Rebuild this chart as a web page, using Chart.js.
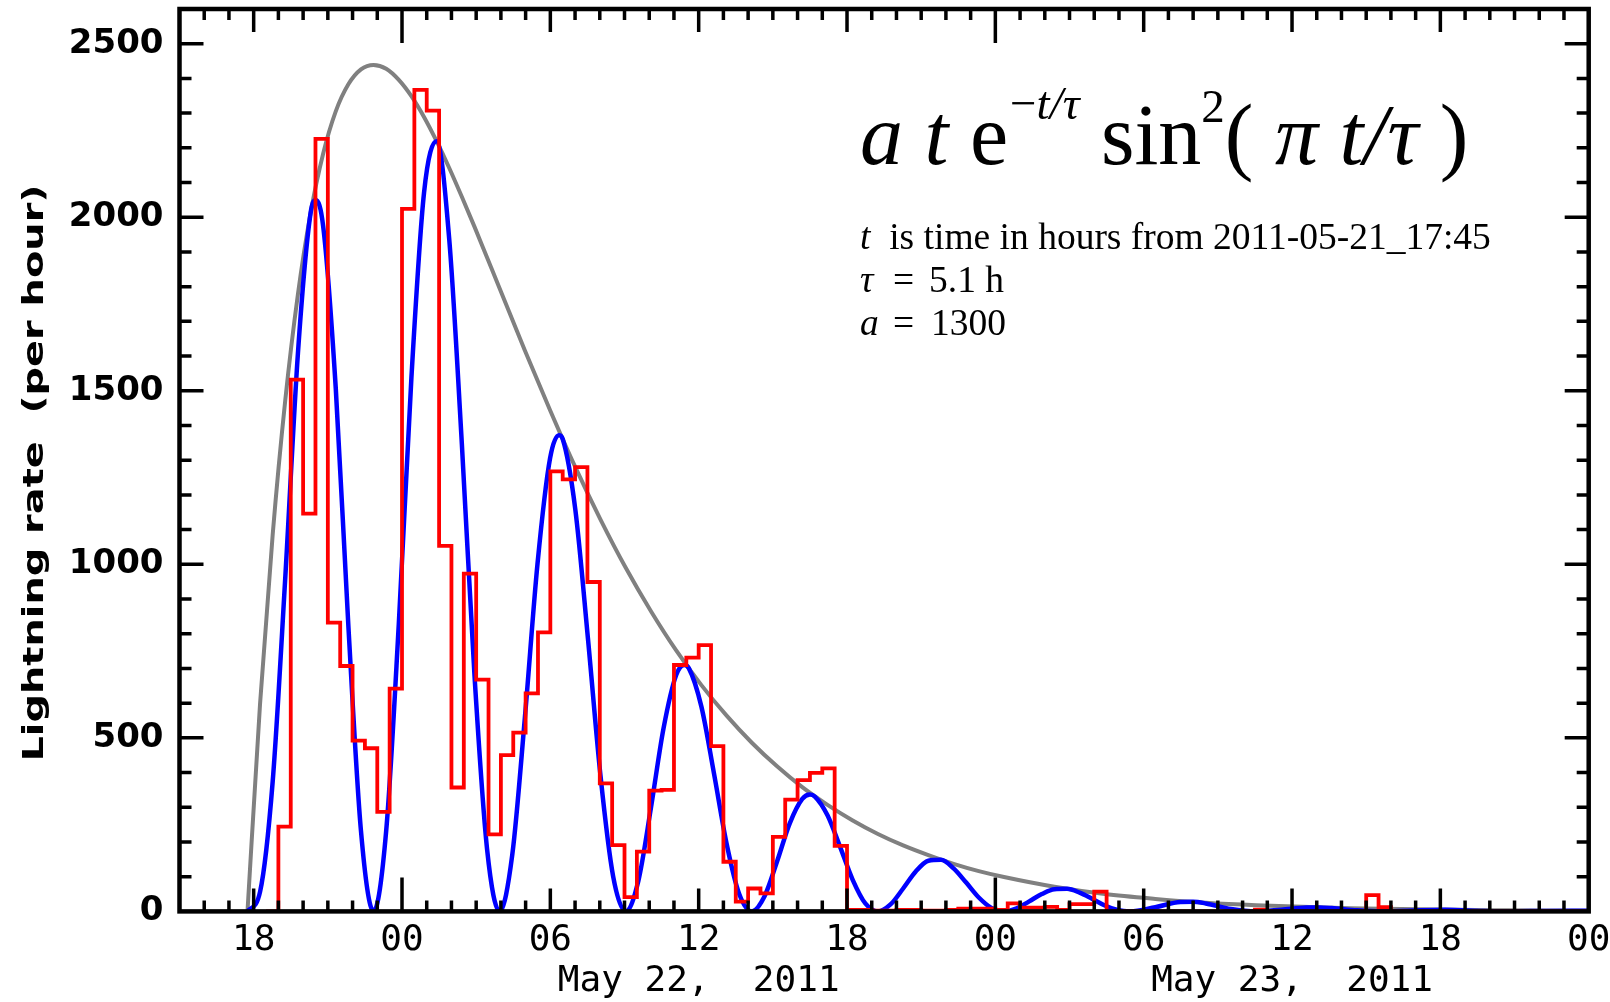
<!DOCTYPE html>
<html>
<head>
<meta charset="utf-8">
<title>Lightning rate</title>
<script src="https://cdn.jsdelivr.net/npm/chart.js@4.4.1/dist/chart.umd.min.js"></script>
<style>
  html, body { margin: 0; padding: 0; background: #fff; }
  canvas { display: block; }
</style>
</head>
<body>
<canvas id="graficaRayos" width="1610" height="1002"></canvas>
<script>
// horas contadas desde 2011-05-21 00:00

// histograma (inicio de cada intervalo de media hora, tasa por hora)
const binStart = [18.5, 19, 19.5, 20, 20.5, 21, 21.5, 22, 22.5, 23, 23.5,
  24, 24.5, 25, 25.5, 26, 26.5, 27, 27.5, 28, 28.5,
  29, 29.5, 30, 30.5, 31, 31.5, 32, 32.5, 33, 33.5,
  34, 34.5, 35, 35.5, 36, 36.5, 37, 37.5, 38, 38.5,
  39, 39.5, 40, 40.5, 41, 41.5, 42, 42.5, 43, 43.5,
  44, 44.5, 45, 45.5, 46, 46.5, 47, 47.5, 48, 48.5,
  49, 49.5, 50, 50.5, 51, 51.5, 52, 52.5,
  58.5, 59, 63, 63.5, 64, 72];
const binRate = [0, 244, 1532, 1146, 2226, 832, 707, 492, 470, 287, 642,
  2024, 2367, 2307, 1053, 357, 973, 668, 222, 450, 515,
  628, 804, 1268, 1245, 1280, 949, 369, 191, 41, 172,
  348, 350, 710, 731, 767, 476, 143, 28, 66, 52,
  215, 322, 378, 399, 412, 189, 4, 4, 2, 2,
  4, 4, 2, 2, 4, 8, 8, 8, 4, 23,
  11, 11, 13, 4, 21, 21, 57, 0,
  5, 0, 47, 12, 0, 0];

// curva azul (ajuste)
const fitHours = [17.75, 18.26, 18.77, 19.28, 19.79, 20.30, 20.51, 20.81, 21.32, 21.83,
  22.34, 22.85, 23.36, 23.87, 24.38, 24.89, 25.40, 25.91, 26.42, 26.93,
  27.44, 27.95, 28.46, 28.97, 29.48, 29.99, 30.35, 30.50, 31.01, 31.52,
  32.03, 32.54, 33.05, 33.56, 34.07, 34.58, 35.09, 35.42, 35.60, 36.11,
  36.62, 37.13, 37.64, 38.15, 38.66, 39.17, 39.68, 40.19, 40.50, 40.70,
  41.21, 41.72, 42.23, 42.74, 43.25, 43.76, 44.27, 44.78, 45.29, 45.80,
  46.31, 46.82, 47.33, 47.84, 48.35, 48.86, 49.37, 49.88, 50.39, 50.90,
  51.41, 51.92, 52.43, 52.94, 53.45, 54.47, 55.49, 56.00, 56.51, 57.53,
  58.55, 59.57, 60.59, 61.10, 61.61, 62.63, 63.65, 64.67, 66.20, 67.73,
  68.75, 70.28, 71.30, 72.00];
const fitRate = [0, 57, 375, 964, 1608, 2011, 2050, 1975, 1508, 823,
  232, 0, 232, 828, 1537, 2070, 2219, 1937, 1348, 682,
  180, 0, 163, 558, 1001, 1306, 1372, 1361, 1158, 787,
  390, 101, 0, 88, 299, 528, 681, 710, 701, 590,
  397, 195, 50, 0, 43, 144, 253, 324, 337, 331,
  277, 186, 91, 23, 0, 20, 66, 115, 146, 149,
  124, 83, 40, 10, 0, 9, 29, 50, 64, 65,
  54, 36, 17, 4, 0, 12, 27, 27.5, 23, 7,
  0, 5, 11, 11.5, 9.5, 3, 0, 2, 4.7, 1.2,
  0, 1.5, 1.9, 1.7];

// curva gris (envolvente)
const envHours = [17.75, 18.26, 18.77, 19.28, 19.79, 20.30, 20.81, 21.32, 21.83, 22.34,
  22.85, 23.36, 23.87, 24.38, 24.89, 25.40, 25.91, 26.42, 26.93, 27.44,
  27.95, 28.97, 29.99, 31.01, 32.03, 33.05, 34.07, 35.09, 36.11, 37.13,
  38.15, 39.17, 40.19, 41.21, 42.23, 43.25, 44.27, 45.29, 46.31, 47.33,
  48.35, 50.39, 52.43, 54.47, 56.51, 58.55, 63.65, 68.75, 72.00];
const envRate = [0, 600, 1086, 1474, 1778, 2011, 2183, 2305, 2383, 2426,
  2439, 2428, 2396, 2349, 2289, 2219, 2142, 2059, 1973, 1884,
  1795, 1616, 1444, 1280, 1129, 990, 865, 752, 652, 564,
  486, 418, 358, 307, 262, 223, 190, 162, 137, 116,
  99, 71, 50, 36, 25, 18, 7.4, 3.0, 1.7];

const xTickHours = [18, 24, 30, 36, 42, 48, 54, 60, 66, 72];
const xTickLabels = ['18', '00', '06', ['12', 'May 22,  2011'], '18', '00', '06', ['12', 'May 23,  2011'], '18', '00'];
const yTickValues = [0, 500, 1000, 1500, 2000, 2500];
const yTitle = 'Lightning rate  (per hour)';

const toPoints = (xs, ys) => xs.map((h, i) => ({ x: h, y: ys[i] }));

// marco, marcas hacia dentro y textos
const marcoPlugin = {
    id: 'marco',
    afterDatasetsDraw(chart) {
        const { ctx, chartArea: a, scales: { x, y } } = chart;
        ctx.save();
        ctx.strokeStyle = '#000';
        ctx.lineWidth = 3.5;
        ctx.beginPath();
        for (let h = 16; h < 72; h++) {
            const px = x.getPixelForValue(h);
            const len = h % 24 === 0 ? 34 : (h % 6 === 0 ? 23 : 11);
            ctx.moveTo(px, a.bottom); ctx.lineTo(px, a.bottom - len);
            ctx.moveTo(px, a.top); ctx.lineTo(px, a.top + len);
        }
        for (let v = 100; v < 2600; v += 100) {
            const py = y.getPixelForValue(v);
            const len = v % 500 === 0 ? 24 : 12;
            ctx.moveTo(a.left, py); ctx.lineTo(a.left + len, py);
            ctx.moveTo(a.right, py); ctx.lineTo(a.right - len, py);
        }
        ctx.stroke();
        ctx.lineWidth = 4.5;
        ctx.strokeRect(a.left, a.top, a.right - a.left, a.bottom - a.top);

        // titulo del eje y
        ctx.fillStyle = '#000';
        ctx.save();
        ctx.translate(43, 473);
        ctx.rotate(-Math.PI / 2);
        ctx.font = 'bold 28px "DejaVu Sans"';
        const w = ctx.measureText(yTitle).width;
        ctx.scale(577 / w, 1);
        ctx.textAlign = 'center';
        ctx.textBaseline = 'alphabetic';
        ctx.fillText(yTitle, 0, 0);
        ctx.restore();

        // formula
        const serif = '"Liberation Serif", "Times New Roman", serif';
        const big = '86px ' + serif, bigI = 'italic 86px ' + serif;
        const sup = '47px ' + serif, supI = 'italic 47px ' + serif;
        const put = (txt, font, px, py) => { ctx.font = font; ctx.fillText(txt, px, py); return px + ctx.measureText(txt).width; };
        ctx.textAlign = 'left';
        ctx.textBaseline = 'alphabetic';
        let cx = 860;
        const base = 164, supBase = 119;
        cx = put('a', bigI, cx, base);
        cx = put(' ', big, cx, base);
        cx = put('t', bigI, cx, base);
        cx = put(' e', big, cx, base);
        cx = put('\u2212', sup, cx + 2, supBase);
        cx = put('t/\u03c4', supI, cx, supBase);
        cx = put(' sin', big, cx, base);
        cx = put('2', sup, cx, supBase + 3);
        cx = put('( ', big, cx, base);
        cx = put('\u03c0', bigI, cx, base);
        cx = put(' ', big, cx, base);
        cx = put('t/\u03c4', bigI, cx, base);
        put(' )', big, cx, base);

        const small = '37.5px ' + serif, smallI = 'italic 37.5px ' + serif;
        cx = put('t', smallI, 860, 249);
        put('  is time in hours from 2011-05-21_17:45', small, cx, 249);
        put('\u03c4', smallI, 860, 292);
        put('=', small, 893, 292);
        put('5.1 h', small, 929, 292);
        put('a', smallI, 860, 335);
        put('=', small, 893, 335);
        put('1300', small, 931, 335);
        ctx.restore();
    }
};

const ctxRayos = document.getElementById('graficaRayos').getContext('2d');
const graficaRayos = new Chart(ctxRayos, {
    type: 'line',
    data: {
        datasets: [{
            label: 'Observed',
            data: toPoints(binStart, binRate),
            borderColor: '#ff0000',
            borderWidth: 3.8,
            stepped: true,
            pointRadius: 0
        }, {
            label: 'Fit',
            data: toPoints(fitHours, fitRate),
            borderColor: '#0000ff',
            borderWidth: 4.5,
            cubicInterpolationMode: 'monotone',
            pointRadius: 0
        }, {
            label: 'Envelope',
            data: toPoints(envHours, envRate),
            borderColor: '#808080',
            borderWidth: 4,
            cubicInterpolationMode: 'monotone',
            pointRadius: 0
        }]
    },
    options: {
        responsive: false,
        animation: false,
        devicePixelRatio: 1,
        layout: { padding: { top: 9, right: 21.3, left: 0, bottom: 0 } },
        plugins: {
            legend: { display: false },
            tooltip: { enabled: false }
        },
        scales: {
            x: {
                type: 'linear',
                min: 15,
                max: 72,
                grid: { display: false, drawTicks: false },
                border: { display: false },
                afterBuildTicks: s => { s.ticks = xTickHours.map(v => ({ value: v })); },
                afterFit: s => { s.height = 90.6; s.paddingLeft = 0; s.paddingRight = 0; },
                ticks: {
                    autoSkip: false,
                    maxRotation: 0,
                    minRotation: 0,
                    padding: 8.5,
                    color: '#000',
                    font: { family: 'DejaVu Sans Mono', size: 36, lineHeight: 1.15 },
                    callback: (v, i) => xTickLabels[i]
                }
            },
            y: {
                min: 0,
                max: 2600,
                grid: { display: false, drawTicks: false },
                border: { display: false },
                afterBuildTicks: s => { s.ticks = yTickValues.map(v => ({ value: v })); },
                afterFit: s => { s.width = 179.5; s.paddingTop = 0; s.paddingBottom = 0; },
                ticks: {
                    padding: 16,
                    color: '#000',
                    font: { family: 'DejaVu Sans', size: 34, weight: 'bold' },
                    callback: v => String(v)
                }
            }
        }
    },
    plugins: [marcoPlugin]
});
</script>
</body>
</html>
